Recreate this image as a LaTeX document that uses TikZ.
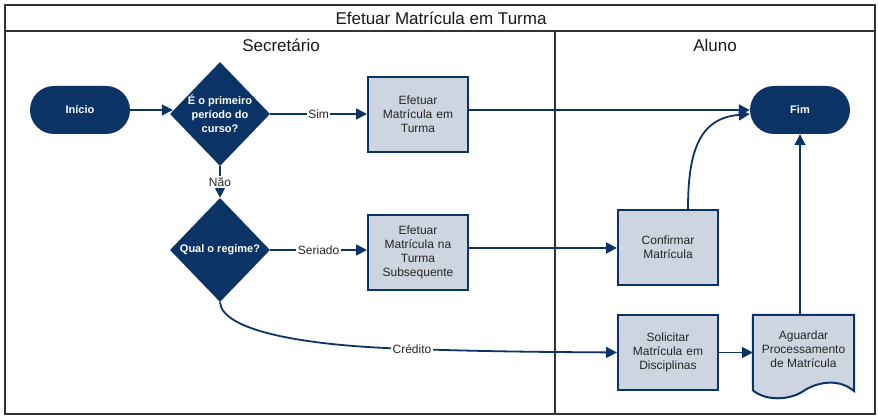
\documentclass[tikz,border=0pt]{standalone}
\usepackage{fontspec}
\setmainfont{Liberation Sans}
\usetikzlibrary{shapes.geometric,arrows.meta,calc}
\definecolor{navy}{HTML}{0B3366}
\definecolor{boxfill}{HTML}{CDD5E1}
\definecolor{framec}{HTML}{333333}
\begin{document}
\begin{tikzpicture}[x=1pt,y=-1pt,
 term/.style={fill=navy,text=white,font=\bfseries\fontsize{11}{13}\selectfont,rounded corners=24pt,minimum width=100pt,minimum height=48pt,inner sep=0pt},
 proc/.style={draw=navy,line width=2pt,fill=boxfill,minimum width=100pt,minimum height=75pt,inner sep=0pt,align=center,text width=98pt,font=\fontsize{12}{14}\selectfont,text=black!85},
 dec/.style={diamond,fill=navy,minimum width=100pt,minimum height=104pt,inner sep=0pt},
 dect/.style={text=white,font=\bfseries\fontsize{11}{14}\selectfont,align=center,inner sep=0pt},
 conn/.style={draw=navy,line width=1.8pt,-{Triangle[length=11pt,width=11pt]}},
 lbl/.style={fill=white,inner sep=1.5pt,font=\fontsize{12}{14}\selectfont,text=black!85},
 lane/.style={draw=framec,line width=1.5pt},
 head/.style={font=\fontsize{17}{19}\selectfont,text=black!90}]
\useasboundingbox (0,0) rectangle (878,419);
% frame
\draw[lane] (5,5) rectangle (875,414);
\draw[lane] (5,31) -- (875,31);
\draw[lane] (555,31) -- (555,414);
\node[head] (title) at (441,18) {Efetuar Matrícula em Turma};
\node[head] (sec) at (281,45) {Secretário};
\node[head] (alu) at (715,45) {Aluno};
% nodes
\node[term] (ini) at (80,110) {Início};
\node[dec] (d1) at (220,114) {};
\node[dect] (d1t) at (d1.center) {É o primeiro\\período do\\curso?};
\node[dec] (d2) at (220,250) {};
\node[dect] (d2t) at (d2.center) {Qual o regime?};
\node[proc] (b1) at (418,114.5) {Efetuar\\Matrícula em\\Turma};
\node[proc] (b2) at (418,252.5) {Efetuar\\Matrícula na\\Turma\\Subsequente};
\node[term] (fim) at (800,110) {Fim};
\node[proc] (conf) at (668,247.5) {Confirmar\\Matrícula};
\node[proc] (sol) at (668,352.5) {Solicitar\\Matrícula em\\Disciplinas};
% document shape
\node[minimum width=101pt,minimum height=75pt,inner sep=0pt] (ag) at (803.5,352.5) {};
\draw[draw=navy,line width=2pt,fill=boxfill]
  (ag.south west) -- (ag.north west) -- (ag.north east) -- ($(ag.south east)+(0,1)$)
  .. controls (840,379) and (820,381) .. (805,390)
  .. controls (790,401) and (765,401) .. (ag.south west) -- cycle;
\node[align=center,font=\fontsize{12}{14}\selectfont,text=black!85] (agt) at (803.5,349) {Aguardar\\Processamento\\de Matrícula};
% connectors
\draw[conn] (ini.east) -- ($(ini.east -| d1.west)+(3,0)$);
\draw[conn] (d1.east) -- node[lbl] (ls) {Sim} (d1.east -| b1.west);
\draw[conn] (d1.south) -- node[lbl] (ln) {Não} (d2.north);
\draw[conn] (d2.east) -- node[lbl] (lse) {Seriado} (d2.east -| b2.west);
\draw[conn] (b1.east |- fim.west) -- (fim.west);
\draw[conn] (b2.east |- 0,248) -- (conf.west |- 0,248);
\draw[conn] ([xshift=20pt]conf.north) .. controls (688,150) and (700,118) .. ([yshift=-4pt]fim.west);
\draw[conn] (ag.north -| fim.south) -- (fim.south);
\draw[conn] (sol.east) -- (ag.west);
\draw[conn] (d2.south) .. controls (222,330) and (300,346) .. (412,349)
  .. controls (500,352) and (560,352) .. (sol.west);
\node[lbl] (lc) at (412,349) {Crédito};
\end{tikzpicture}
\end{document}
